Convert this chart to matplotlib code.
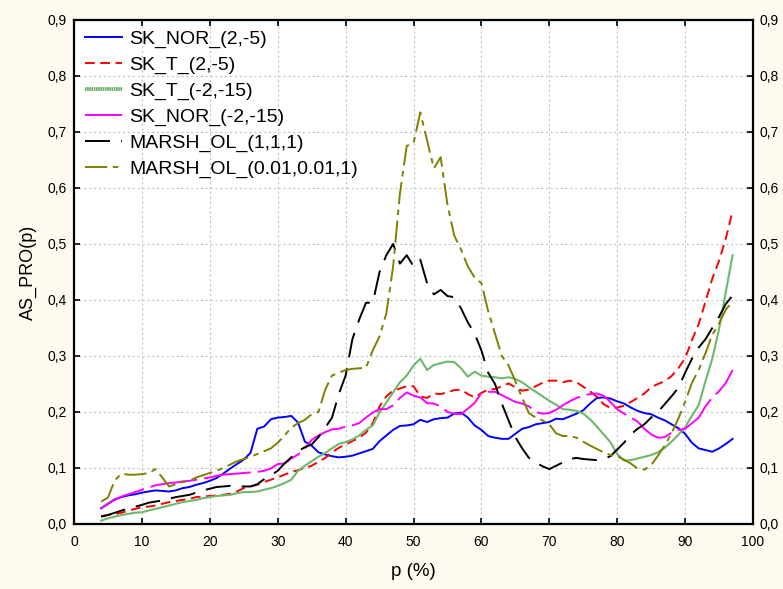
import matplotlib
matplotlib.use("Agg")
import matplotlib.pyplot as plt
import matplotlib.patheffects as pe
from matplotlib.lines import Line2D
from matplotlib.ticker import FuncFormatter, MultipleLocator

plt.rcParams['font.family'] = ['Liberation Sans', 'DejaVu Sans']
plt.rcParams['lines.scale_dashes'] = False

# p (%) from 4 to 97
p = list(range(4, 98))

sk_nor_2_5 = [
    .028, .036, .044, .048, .051, .053, .056, .058, .060, .059,
    .058, .060, .064, .066, .070, .073, .077, .082, .090, .099,
    .107, .115, .127, .170, .174, .187, .190, .191, .193, .181,
    .147, .140, .128, .124, .121, .119, .120, .122, .126, .130,
    .134, .148, .158, .168, .175, .176, .178, .186, .182, .187,
    .189, .190, .197, .199, .190, .176, .168, .157, .154, .152,
    .152, .161, .170, .173, .178, .180, .182, .188, .187, .192,
    .197, .203, .215, .225, .226, .224, .219, .215, .208, .202,
    .198, .196, .190, .185, .178, .171, .161, .145, .135, .132,
    .129, .135, .143, .152]

sk_t_2_5 = [
    .014, .016, .018, .020, .024, .027, .030, .031, .033, .036,
    .039, .041, .043, .045, .048, .049, .050, .051, .052, .054,
    .058, .064, .067, .070, .075, .079, .083, .088, .093, .096,
    .100, .104, .111, .118, .128, .136, .142, .148, .154, .163,
    .180, .210, .228, .238, .242, .246, .246, .228, .225, .233,
    .232, .235, .239, .240, .232, .226, .234, .240, .241, .246,
    .251, .244, .238, .240, .246, .252, .256, .256, .253, .256,
    .253, .245, .237, .227, .214, .207, .208, .211, .218, .225,
    .233, .244, .250, .255, .264, .278, .296, .328, .357, .397,
    .438, .470, .510, .559]

sk_t_m2_m15 = [
    .006, .010, .013, .016, .018, .020, .021, .024, .027, .030,
    .033, .036, .039, .041, .043, .046, .048, .050, .051, .052,
    .055, .057, .057, .058, .061, .064, .068, .073, .079, .095,
    .104, .112, .120, .127, .135, .143, .146, .151, .158, .168,
    .176, .199, .217, .235, .253, .265, .283, .295, .275, .284,
    .287, .290, .289, .278, .263, .272, .265, .263, .262, .260,
    .262, .259, .253, .244, .236, .228, .220, .213, .205, .204,
    .202, .197, .187, .174, .160, .146, .125, .113, .114, .117,
    .120, .123, .128, .136, .147, .159, .173, .193, .212, .255,
    .295, .348, .415, .480]

sk_nor_m2_m15 = [
    .028, .036, .043, .049, .053, .057, .061, .065, .069, .071,
    .073, .074, .076, .077, .079, .081, .083, .086, .088, .089,
    .090, .091, .092, .093, .095, .099, .107, .108, .117, .124,
    .135, .150, .158, .164, .169, .170, .174, .176, .180, .190,
    .199, .205, .205, .212, .225, .235, .229, .226, .216, .215,
    .210, .200, .197, .196, .206, .216, .234, .236, .236, .230,
    .224, .218, .215, .210, .200, .197, .198, .204, .212, .219,
    .225, .229, .232, .233, .229, .218, .205, .197, .190, .183,
    .170, .160, .154, .155, .163, .168, .170, .180, .190, .210,
    .226, .237, .252, .275]

marsh_1_1_1 = [
    .013, .016, .020, .024, .028, .031, .034, .038, .040, .042,
    .045, .048, .050, .052, .056, .060, .063, .066, .067, .068,
    .067, .067, .067, .071, .080, .087, .095, .108, .119, .130,
    .137, .142, .155, .172, .190, .232, .265, .330, .365, .395,
    .395, .450, .480, .500, .465, .480, .460, .472, .430, .410,
    .418, .407, .405, .385, .360, .340, .310, .270, .250, .215,
    .185, .155, .135, .118, .110, .103, .098, .104, .110, .116,
    .118, .116, .115, .114, .116, .121, .133, .145, .160, .170,
    .178, .190, .200, .214, .228, .243, .270, .295, .315, .330,
    .350, .370, .393, .408]

marsh_001_001_1 = [
    .040, .047, .078, .090, .088, .088, .089, .091, .098, .083,
    .067, .071, .075, .077, .083, .087, .091, .095, .100, .106,
    .112, .116, .120, .125, .130, .135, .145, .158, .172, .180,
    .186, .196, .200, .240, .265, .270, .275, .277, .278, .279,
    .310, .335, .376, .460, .590, .675, .680, .735, .685, .635,
    .655, .570, .515, .490, .460, .440, .430, .380, .340, .300,
    .283, .255, .225, .198, .190, .185, .178, .162, .157, .157,
    .154, .147, .140, .134, .128, .123, .121, .115, .108, .099,
    .097, .105, .122, .140, .162, .188, .218, .252, .275, .305,
    .338, .358, .383, .397]

labels = ['SK_NOR_(2,-5)', 'SK_T_(2,-5)', 'SK_T_(-2,-15)', 'SK_NOR_(-2,-15)',
          'MARSH_OL_(1,1,1)', 'MARSH_OL_(0.01,0.01,1)']

fig = plt.figure(figsize=(7.83, 5.89), dpi=100, facecolor='#fffaf0')
ax = fig.add_axes([0.0945, 0.1104, 0.8672, 0.8557])
ax.set_facecolor('white')

lw = 1.4
h1, = ax.plot(p, sk_nor_2_5, color='#0000ff', lw=lw)
h2, = ax.plot(p, sk_t_2_5, color='#ff0000', lw=lw, dashes=(7, 4))
ax.plot(p, sk_t_m2_m15, color='#6cb96c', lw=1.5)
h4, = ax.plot(p, sk_nor_m2_m15, color='#ff00ff', lw=lw, dashes=(34, 5))
h5, = ax.plot(p, marsh_1_1_1, color='black', lw=lw, dashes=(18, 8))
h6, = ax.plot(p, marsh_001_001_1, color='#808000', lw=lw, dashes=(16, 4, 4, 4))

# legend sample of the green series is drawn as a striped band
h3 = Line2D([], [], color='#5fae5f', lw=2.6, dashes=(1, 0.6),
            path_effects=[pe.Stroke(linewidth=2.6, foreground='#9fd29f'), pe.Normal()])

ax.set_xlim(0, 100)
ax.set_ylim(0, 0.9)
ax.xaxis.set_major_locator(MultipleLocator(10))
ax.yaxis.set_major_locator(MultipleLocator(0.1))
ax.yaxis.set_major_formatter(FuncFormatter(lambda v, _: f'{v:.1f}'.replace('.', ',')))
ax.grid(True, color='#c0c0c0', linestyle=(0, (1.5, 2)), linewidth=0.8)
ax.tick_params(direction='in', length=4, width=1.2, top=True, right=True,
               labelright=True, labelsize=10)
ax.tick_params(axis='x', pad=8)
ax.tick_params(axis='y', pad=5)
for s in ax.spines.values():
    s.set_linewidth(1.6)

ax.set_xlabel('p (%)', fontsize=13.5, labelpad=10)
ax.set_ylabel('AS_PRO(p)', fontsize=13, labelpad=8)

leg = ax.legend([h1, h2, h3, h4, h5, h6], labels, loc='upper left', fontsize=14,
                frameon=False, handlelength=1.9, handletextpad=0.4,
                labelspacing=0.42, borderaxespad=0.1, borderpad=0.45)

fig.savefig('out.png', dpi=100, facecolor=fig.get_facecolor())
